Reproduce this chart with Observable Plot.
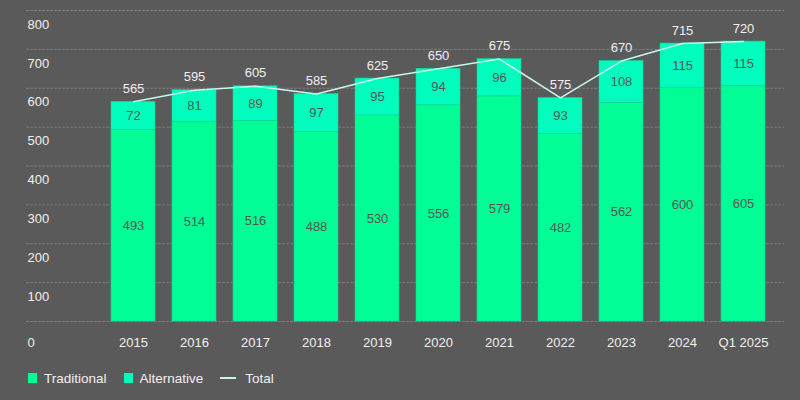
<!DOCTYPE html>
<html>
<head>
<meta charset="utf-8">
<script src="https://cdn.jsdelivr.net/npm/d3@7"></script>
<script src="https://cdn.jsdelivr.net/npm/@observablehq/plot@0.6"></script>
<style>
  html, body { margin: 0; padding: 0; background: #5a5a5a; }
  #chart { width: 800px; height: 400px; overflow: hidden; font-family: "Liberation Sans", Arial, sans-serif; }
  .legend { display: flex; align-items: center; height: 16px; margin-top: 10px; padding-left: 28px; font-size: 13.5px; color: #f2eef0; }
  .legend .item { display: flex; align-items: center; margin-right: 17px; }
  .legend .sq { width: 9px; height: 10px; margin-right: 7px; }
  .legend .ln { width: 16px; height: 2px; margin-right: 9px; }
</style>
</head>
<body>
<div id="chart"></div>
<script>
// Asset volumes by period: traditional and alternative segments, plus total
const periods = ["2015", "2016", "2017", "2018", "2019", "2020", "2021", "2022", "2023", "2024", "Q1 2025"];
const traditional = [493, 514, 516, 488, 530, 556, 579, 482, 562, 600, 605];
const alternative = [72, 81, 89, 97, 95, 94, 96, 93, 108, 115, 115];
const total = [565, 595, 605, 585, 625, 650, 675, 575, 670, 715, 720];
const yTicks = [0, 100, 200, 300, 400, 500, 600, 700, 800];

const seriesNames = ["Traditional", "Alternative"];
const seriesColors = ["#00fd96", "#00fdbd"];
const totalColor = "#c6f7ec";
const textColor = "#f2eef0";
const innerText = "#555555";

const rows = periods.flatMap((p, i) => [
  {period: p, series: "Traditional", value: traditional[i]},
  {period: p, series: "Alternative", value: alternative[i]}
]);
const totals = periods.map((p, i) => ({period: p, total: total[i]}));

const plot = Plot.plot({
  width: 800,
  height: 360,
  marginTop: 10,
  marginBottom: 39,
  marginLeft: 26,
  marginRight: 16,
  style: {background: "transparent", fontFamily: "'Liberation Sans', Arial, sans-serif", fontSize: "13px"},
  x: {type: "band", domain: periods, range: [100, 775], paddingInner: 0.28, paddingOuter: 0.14, axis: null, label: null},
  y: {domain: [0, 800], axis: null, label: null},
  color: {domain: seriesNames, range: seriesColors},
  marks: [
    Plot.ruleY(yTicks, {stroke: "#7c7c7c", strokeWidth: 1, strokeDasharray: "3,1"}),
    Plot.text(yTicks.filter(d => d > 0), {y: d => d, text: d => String(d), frameAnchor: "left", textAnchor: "start", dx: 1, dy: 14, fill: textColor, fontSize: 13}),
    Plot.text([0], {y: d => d, text: d => String(d), frameAnchor: "left", textAnchor: "start", dx: 1, dy: 21, fill: textColor, fontSize: 13}),
    Plot.barY(rows, {x: "period", y: "value", fill: "series", order: seriesNames, stroke: "#14d392", strokeWidth: 0.6}),
    Plot.text(rows, Plot.stackY({x: "period", y: "value", z: "series", order: seriesNames, text: d => String(d.value), fill: innerText, fontSize: 13})),
    Plot.line(totals, {x: "period", y: "total", stroke: totalColor, strokeWidth: 1.5}),
    Plot.text(totals, {x: "period", y: "total", text: d => String(d.total), dy: -13, fill: textColor, fontSize: 13}),
    Plot.axisX({tickSize: 0, tickPadding: 16, fill: textColor, fontSize: 13, label: null})
  ]
});

const chart = document.getElementById("chart");
chart.appendChild(plot);

// Legend below the plot
const legend = document.createElement("div");
legend.className = "legend";
seriesNames.forEach((name, i) => {
  const item = document.createElement("div");
  item.className = "item";
  const sw = document.createElement("span");
  sw.className = "sq";
  sw.style.background = seriesColors[i];
  const label = document.createElement("span");
  label.textContent = name;
  item.append(sw, label);
  legend.appendChild(item);
});
const totalItem = document.createElement("div");
totalItem.className = "item";
const ln = document.createElement("span");
ln.className = "ln";
ln.style.background = totalColor;
const tl = document.createElement("span");
tl.textContent = "Total";
totalItem.append(ln, tl);
legend.appendChild(totalItem);
chart.appendChild(legend);
</script>
</body>
</html>
